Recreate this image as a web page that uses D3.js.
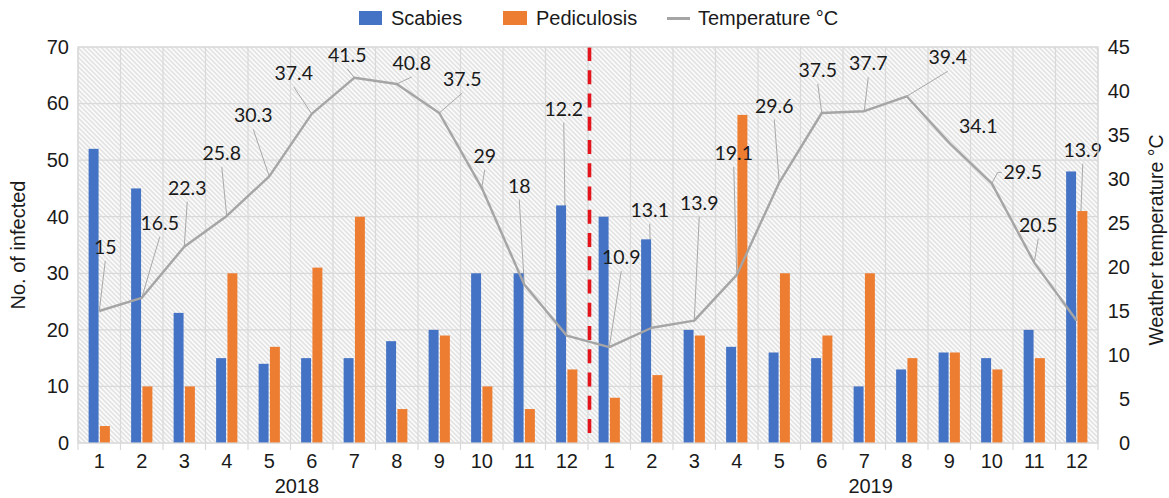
<!DOCTYPE html>
<meta charset="utf-8">
<style>
  body { margin: 0; background: #fff; }
  svg text { font-family: "Liberation Sans", Arial, sans-serif; fill: #1a1a1a; }
  .dlabel { font-family: Lato, "Open Sans", sans-serif; }
</style>
<body>
<script src="https://d3js.org/d3.v7.min.js"></script>
<script>

// data
var years = ["2018", "2019"];
var months = [1, 2, 3, 4, 5, 6, 7, 8, 9, 10, 11, 12];
var scabies = [52, 45, 23, 15, 14, 15, 15, 18, 20, 30, 30, 42,
               40, 36, 20, 17, 16, 15, 10, 13, 16, 15, 20, 48];
var pediculosis = [3, 10, 10, 30, 17, 31, 40, 6, 19, 10, 6, 13,
                   8, 12, 19, 58, 30, 19, 30, 15, 16, 13, 15, 41];
var temperature = [15, 16.5, 22.3, 25.8, 30.3, 37.4, 41.5, 40.8, 37.5, 29, 18, 12.2,
                   10.9, 13.1, 13.9, 19.1, 29.6, 37.5, 37.7, 39.4, 34.1, 29.5, 20.5, 13.9];
var countTicks = [0, 10, 20, 30, 40, 50, 60, 70];
var tempTicks = [0, 5, 10, 15, 20, 25, 30, 35, 40, 45];
var seriesNames = ["Scabies", "Pediculosis", "Temperature °C"];

// callout placement for the temperature labels: [dx, dy, leader side]
var callouts = [
  [6, -64, "b"], [18, -75, "b"], [3, -59, "b"], [-5, -63, "b"], [-16, -61, "b"], [-18, -41, "b"],
  [-7, -23, "b"], [15, -21, "b"], [23, -34, "b"], [3, -32, "b"], [-5, -99, "b"], [-3, -227, "b"],
  [12, -90, "b"], [-2, -118, "b"], [5, -118, "b"], [-3, -122, "b"], [-5, -77, "b"], [-4, -43, "b"],
  [4, -48, "b"], [41, -39, "b"], [29, -17, ""], [31, -11, "l"], [4, -38, "b"], [6, -171, "b"]
];

var W = 1169, H = 498,
    pLeft = 78, pRight = 1098, pTop = 47, pBottom = 443;

var keys = [];
years.forEach(function(y) { months.forEach(function(m) { keys.push(y + "-" + m); }); });

var svg = d3.select("body").append("svg")
    .attr("width", W)
    .attr("height", H);

var x = d3.scaleBand().domain(keys).range([pLeft, pRight]);
var bw = x.bandwidth();
var xs = d3.scaleBand().domain(["s", "p"]).range([0, bw / 2]).paddingInner(0.12);
var yL = d3.scaleLinear().domain([0, 70]).range([pBottom, pTop]);
var yR = d3.scaleLinear().domain([0, 45]).range([pBottom, pTop]);
var xFrac = d3.scaleLinear().domain([0, keys.length]).range([pLeft, pRight]);

// hatched plot background
var defs = svg.append("defs");
var pat = defs.append("pattern")
    .attr("id", "hatch")
    .attr("patternUnits", "userSpaceOnUse")
    .attr("width", 3.3).attr("height", 3.3)
    .attr("patternTransform", "rotate(-45)");
pat.append("rect").attr("width", 3.3).attr("height", 3.3).attr("fill", "#fbfbfb");
pat.append("line").attr("x1", 1.65).attr("x2", 1.65).attr("y1", 0).attr("y2", 3.3)
    .attr("stroke", "#d6d6d6").attr("stroke-width", 1.05);

svg.append("rect")
    .attr("x", pLeft).attr("y", pTop)
    .attr("width", pRight - pLeft).attr("height", pBottom - pTop)
    .attr("fill", "url(#hatch)");

// gridlines
var boundaries = keys.map(function(k) { return x(k); }).concat([pRight]);
svg.append("g").selectAll("line")
    .data(countTicks)
  .enter().append("line")
    .attr("x1", pLeft).attr("x2", pRight)
    .attr("y1", function(d) { return yL(d); })
    .attr("y2", function(d) { return yL(d); })
    .attr("stroke", "#d9d9d9").attr("stroke-width", 1.2);
svg.append("g").selectAll("line")
    .data(boundaries)
  .enter().append("line")
    .attr("x1", function(d) { return d; }).attr("x2", function(d) { return d; })
    .attr("y1", pTop).attr("y2", pBottom + 7)
    .attr("stroke", "#d9d9d9").attr("stroke-width", 1.2);

// leader lines (behind the bars, like the original)
function labelPos(i) {
  var px = x(keys[i]) + bw / 2, py = yR(temperature[i]);
  return { px: px, py: py, lx: px + callouts[i][0], ly: py + callouts[i][1], side: callouts[i][2] };
}
var leaders = svg.append("g")
    .attr("fill", "none")
    .attr("stroke", "#a8a8a8")
    .attr("stroke-width", 1);
temperature.forEach(function(t, i) {
  var p = labelPos(i);
  if (p.side === "b") {
    leaders.append("line")
        .attr("x1", p.px).attr("y1", p.py)
        .attr("x2", p.lx).attr("y2", p.ly + 14);
  } else if (p.side === "l") {
    leaders.append("path")
        .attr("d", "M" + p.px + "," + p.py + "L" + (p.lx - 25) + "," + p.ly + "H" + (p.lx - 21));
  }
});

// bars
var groups = svg.append("g").selectAll("g")
    .data(keys)
  .enter().append("g")
    .attr("transform", function(k) { return "translate(" + (x(k) + bw / 4) + ",0)"; });
groups.append("rect")
    .attr("x", xs("s"))
    .attr("width", xs.bandwidth())
    .attr("y", function(k, i) { return yL(scabies[i]); })
    .attr("height", function(k, i) { return yL(0) - yL(scabies[i]); })
    .attr("fill", "#4472c4");
groups.append("rect")
    .attr("x", xs("p"))
    .attr("width", xs.bandwidth())
    .attr("y", function(k, i) { return yL(pediculosis[i]); })
    .attr("height", function(k, i) { return yL(0) - yL(pediculosis[i]); })
    .attr("fill", "#ed7d31");

// temperature line
var line = d3.line()
    .x(function(d, i) { return x(keys[i]) + bw / 2; })
    .y(function(d) { return yR(d); });
svg.append("path")
    .datum(temperature)
    .attr("d", line)
    .attr("fill", "none")
    .attr("stroke", "#a5a5a5")
    .attr("stroke-width", 2.4)
    .attr("stroke-linejoin", "round");

// temperature labels
svg.append("g").selectAll("text")
    .data(temperature)
  .enter().append("text")
    .attr("class", "dlabel")
    .attr("x", function(d, i) { return labelPos(i).lx; })
    .attr("y", function(d, i) { return labelPos(i).ly; })
    .attr("dy", "0.36em")
    .attr("text-anchor", "middle")
    .style("font-size", "19.5px")
    .text(function(d) { return d; });

// year divider
var divX = x(keys[12]) + 1.5;
svg.append("line")
    .attr("x1", divX).attr("x2", divX)
    .attr("y1", pTop).attr("y2", pBottom - 10)
    .attr("stroke", "#e3141c")
    .attr("stroke-width", 3.6)
    .attr("stroke-dasharray", "14,9.25");

// plot border
svg.append("rect")
    .attr("x", pLeft).attr("y", pTop)
    .attr("width", pRight - pLeft).attr("height", pBottom - pTop)
    .attr("fill", "none").attr("stroke", "#d9d9d9").attr("stroke-width", 1.2);

// axes
var axL = svg.append("g")
    .attr("transform", "translate(" + pLeft + ",0)")
    .call(d3.axisLeft(yL).tickValues(countTicks).tickSize(0).tickPadding(9));
var axR = svg.append("g")
    .attr("transform", "translate(" + pRight + ",0)")
    .call(d3.axisRight(yR).tickValues(tempTicks).tickSize(0).tickPadding(32));
axR.selectAll("text").attr("text-anchor", "end");
var axB = svg.append("g")
    .attr("transform", "translate(0," + pBottom + ")")
    .call(d3.axisBottom(x).tickSize(0).tickPadding(11)
      .tickFormat(function(k) { return k.split("-")[1]; }));
[axL, axR, axB].forEach(function(a) {
  a.select(".domain").remove();
  a.selectAll("text").style("font-size", "20px").style("font-family", null).attr("fill", "#1a1a1a");
});

// year labels
svg.append("g").selectAll("text")
    .data(years)
  .enter().append("text")
    .attr("x", function(d, i) { return xFrac([5.15, 18.65][i]); })
    .attr("y", 493)
    .attr("text-anchor", "middle")
    .style("font-size", "20px")
    .text(function(d) { return d; });

// axis titles
svg.append("text")
    .attr("transform", "translate(25,245) rotate(-90)")
    .attr("text-anchor", "middle")
    .style("font-size", "20px")
    .text("No. of infected");
svg.append("text")
    .attr("transform", "translate(1163,240) rotate(-90)")
    .attr("text-anchor", "middle")
    .style("font-size", "19.5px")
    .text("Weather temperature °C");

// legend
var legend = svg.append("g").attr("transform", "translate(359,0)");
legend.append("rect").attr("x", 0).attr("y", 11).attr("width", 23).attr("height", 14).attr("fill", "#4472c4");
legend.append("text").attr("x", 32).attr("y", 25).style("font-size", "20px").text(seriesNames[0]);
legend.append("rect").attr("x", 144).attr("y", 11).attr("width", 24).attr("height", 14).attr("fill", "#ed7d31");
legend.append("text").attr("x", 177).attr("y", 25).style("font-size", "20px").text(seriesNames[1]);
legend.append("line").attr("x1", 308).attr("x2", 331).attr("y1", 18.5).attr("y2", 18.5)
    .attr("stroke", "#a5a5a5").attr("stroke-width", 3);
legend.append("text").attr("x", 339).attr("y", 25).style("font-size", "20px").text(seriesNames[2]);

</script>
